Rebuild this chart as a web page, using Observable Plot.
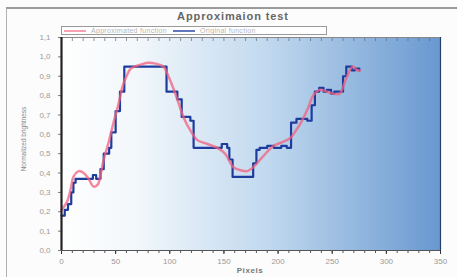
<!DOCTYPE html>
<html>
<head>
<meta charset="utf-8">
<script src="https://cdn.jsdelivr.net/npm/d3@7"></script>
<script src="https://cdn.jsdelivr.net/npm/@observablehq/plot@0.6"></script>
<style>
  html, body { margin: 0; padding: 0; background: #fcfcfc; }
  #wrap { position: relative; width: 457px; height: 277px; overflow: hidden; font-family: "Liberation Sans", Arial, sans-serif; }
  #frame { position: absolute; left: 6px; top: 7px; width: 460px; height: 280px; border-top: 2px solid #9a9a9a; border-left: 1px solid #b0b0b0; }
  #title { position: absolute; left: 0; width: 466px; top: 10px; text-align: center; font-size: 11px; font-weight: bold; color: #666; letter-spacing: 0.9px; }
  #legend { position: absolute; left: 61px; top: 26px; width: 264px; height: 7px; background: #fff; border: 1px solid #9a9a9a; font-size: 7px; line-height: 7px; color: #b5b5b5; white-space: nowrap; letter-spacing: 0.3px; }
  #legend span.sw { display: inline-block; width: 22px; height: 2px; vertical-align: middle; margin: 0 5px 0 2px; }
  #ylabel { position: absolute; left: 23px; top: 139px; transform: translate(-50%, -50%) rotate(-90deg); font-size: 6.5px; color: #888; white-space: nowrap; }
  #xlabel { position: absolute; left: 250px; top: 266px; transform: translateX(-50%); font-size: 8px; font-weight: bold; color: #777; letter-spacing: 0.6px; }
  svg { position: absolute; left: 0; top: 0; }
</style>
</head>
<body>
<div id="wrap">
  <div id="frame"></div>
  <div id="title">Approximaion test</div>
  <div id="ylabel">Normalized brightness</div>
  <div id="xlabel">Pixels</div>
</div>
<script>
// Original (step) function: x start of each step, value
const origX = [0, 3, 6, 9, 11, 13, 29, 32, 36, 39, 44, 46, 50, 54, 58, 97, 107, 111, 119, 122, 148, 153, 155, 158, 177, 180, 183, 190, 196, 203, 208, 212, 217, 227, 231, 234, 238, 242, 245, 249, 252, 256, 260, 263, 268, 271, 275];
const origY = [0.18, 0.21, 0.24, 0.30, 0.35, 0.37, 0.39, 0.37, 0.42, 0.50, 0.53, 0.61, 0.72, 0.82, 0.95, 0.82, 0.78, 0.69, 0.67, 0.53, 0.55, 0.53, 0.47, 0.38, 0.45, 0.52, 0.53, 0.54, 0.53, 0.54, 0.53, 0.66, 0.68, 0.67, 0.75, 0.82, 0.84, 0.82, 0.83, 0.81, 0.82, 0.82, 0.90, 0.95, 0.93, 0.94, 0.93];

// Approximated (smooth) function
const approxX = [0, 5, 8.6, 11, 16, 20.5, 25, 29.7, 33.4, 36, 39, 43.6, 48, 52.8, 56.5, 60, 64, 73, 79.5, 87, 94, 98, 101, 107, 112.6, 119, 125.5, 134.7, 144, 151, 158.7, 165, 171.6, 177, 183.6, 190, 195.5, 204, 211, 217.7, 223, 228, 232.4, 238.8, 245, 250.8, 257, 261, 263.7, 269, 273, 275.7];
const approxY = [0.21, 0.25, 0.32, 0.38, 0.41, 0.40, 0.37, 0.33, 0.34, 0.39, 0.47, 0.56, 0.66, 0.76, 0.85, 0.90, 0.94, 0.96, 0.97, 0.965, 0.95, 0.91, 0.87, 0.78, 0.69, 0.62, 0.57, 0.55, 0.53, 0.50, 0.43, 0.415, 0.41, 0.43, 0.47, 0.51, 0.54, 0.56, 0.58, 0.63, 0.68, 0.74, 0.80, 0.83, 0.82, 0.81, 0.81, 0.86, 0.90, 0.95, 0.93, 0.93];

const seriesNames = ["Approximated function", "Original function"];
const seriesColors = ["#f2607e", "#1e3c9e"];

const xTicks = d3.range(0, 351, 50);
const xMinor = d3.range(0, 351, 10);
const yTicks = d3.range(0, 11.5, 1).map(v => v / 10);

const orig = origX.map((x, i) => ({x, y: origY[i]}));
const approx = approxX.map((x, i) => ({x, y: approxY[i]}));

const fmtY = d => d.toFixed(1).replace(".", ",");

const chart = Plot.plot({
  width: 457,
  height: 277,
  marginLeft: 61,
  marginRight: 17,
  marginTop: 37,
  marginBottom: 27,
  style: {background: "transparent", fontFamily: "Liberation Sans, Arial, sans-serif", fontSize: "8px", color: "#8a8a8a", overflow: "visible"},
  x: {domain: [0, 350]},
  y: {domain: [0, 1.1]},
  marks: [
    Plot.frame({fill: "url(#bg)", stroke: "none"}),
    Plot.axisX({ticks: xMinor, tickSize: 3, tickPadding: 0, text: null, stroke: "#555", label: null}),
    Plot.axisX({ticks: xMinor, anchor: "top", tickSize: -3, text: null, stroke: "#667", strokeOpacity: 0.7, label: null}),
    Plot.axisX({ticks: xTicks, tickSize: 4, tickPadding: 4, fill: "#9a9a9a", stroke: "#333", label: null}),
    Plot.axisY({ticks: yTicks, tickSize: 3, tickPadding: 8, tickFormat: fmtY, fill: "#9a9a9a", stroke: "#777", label: null}),
    Plot.ruleY([0], {stroke: "#555", strokeWidth: 1.2}),
    Plot.ruleY([1.1], {stroke: "#888", strokeWidth: 1}),
    Plot.ruleX([350], {stroke: "#2a3f66", strokeWidth: 1.2}),
    Plot.line(orig, {x: "x", y: "y", curve: "step-after", stroke: seriesColors[1], strokeWidth: 2.2}),
    Plot.line(approx, {x: "x", y: "y", curve: "catmull-rom", stroke: seriesColors[0], strokeWidth: 2.5, strokeOpacity: 0.75}),
    Plot.ruleX([0], {stroke: "#222", strokeWidth: 2.2})
  ]
});

const defs = document.createElementNS("http://www.w3.org/2000/svg", "defs");
defs.innerHTML = `<linearGradient id="bg" x1="0" y1="0" x2="1" y2="0">
  <stop offset="0" stop-color="#ffffff"/>
  <stop offset="0.2" stop-color="#f2f7fb"/>
  <stop offset="0.55" stop-color="#c0d8ee"/>
  <stop offset="1" stop-color="#6898d0"/>
</linearGradient>`;
chart.insertBefore(defs, chart.firstChild);

const wrap = document.getElementById("wrap");
wrap.insertBefore(chart, document.getElementById("title"));

// Legend
const legend = document.createElement("div");
legend.id = "legend";
legend.innerHTML = seriesNames.map((n, i) =>
  `<span class="sw" style="background:${seriesColors[i]};opacity:${i === 0 ? 0.6 : 0.7}"></span>${n}`
).join('<span style="display:inline-block;width:4px"></span>');
wrap.appendChild(legend);
</script>
</body>
</html>
